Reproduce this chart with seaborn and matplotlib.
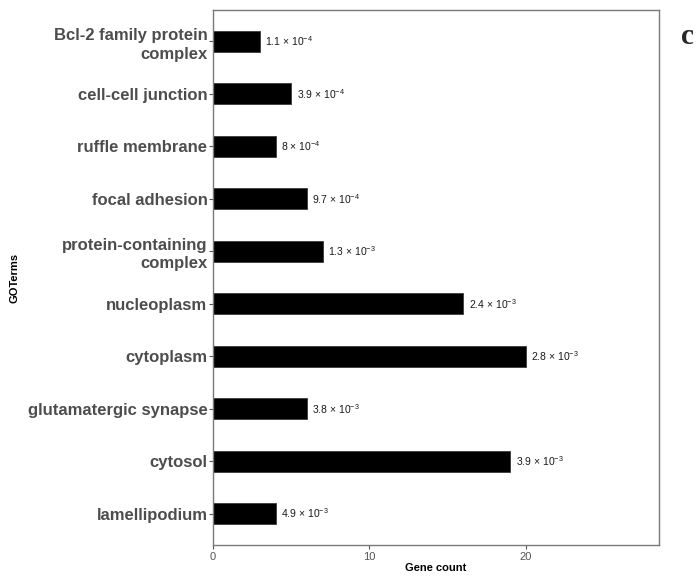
import matplotlib
matplotlib.use("Agg")
import matplotlib.pyplot as plt
import seaborn as sns
import pandas as pd

terms = [
    "Bcl-2 family protein\ncomplex",
    "cell-cell junction",
    "ruffle membrane",
    "focal adhesion",
    "protein-containing\ncomplex",
    "nucleoplasm",
    "cytoplasm",
    "glutamatergic synapse",
    "cytosol",
    "lamellipodium",
]
gene_counts = [3, 5, 4, 6, 7, 16, 20, 6, 19, 4]
p_mantissa = ["1.1", "3.9", "8", "9.7", "1.3", "2.4", "2.8", "3.8", "3.9", "4.9"]
p_exponent = [-4, -4, -4, -4, -3, -3, -3, -3, -3, -3]

df = pd.DataFrame({"GOTerms": terms, "Gene count": gene_counts})

sns.set_theme(style="white")
plt.rcParams["font.family"] = ["Liberation Sans", "DejaVu Sans"]
plt.rcParams["mathtext.fontset"] = "custom"
plt.rcParams["mathtext.rm"] = "Liberation Sans"
plt.rcParams["mathtext.it"] = "Liberation Sans:italic"
plt.rcParams["mathtext.bf"] = "Liberation Sans:bold"

fig = plt.figure(figsize=(6.97, 5.77), dpi=100)
ax = fig.add_axes([213 / 697, 32 / 577, (659 - 213) / 697, (545 - 10) / 577])

sns.barplot(data=df, x="Gene count", y="GOTerms", orient="h", color="black",
            width=0.4, edgecolor="#3a3a3a", linewidth=0.6, ax=ax)

for i, (cnt, m, e) in enumerate(zip(gene_counts, p_mantissa, p_exponent)):
    ax.text(cnt + 0.35, i, f"{m} × 10$^{{\\mathregular{{{e}}}}}$",
            va="center", ha="left", fontsize=7.5, color="#1a1a1a")

ax.set_xlim(0, 28.5)
ax.set_ylim(9.6, -0.6)
ax.set_xticks([0, 10, 20])
ax.tick_params(axis="x", labelsize=8, labelcolor="#555555", color="#555555",
               length=3, width=0.8, bottom=True, pad=2)
ax.tick_params(axis="y", labelsize=12, labelcolor="#4d4d4d", color="#555555",
               length=3, width=0.8, left=True, pad=1)
for lbl in ax.get_yticklabels():
    lbl.set_fontweight("bold")
    lbl.set_linespacing(1.3)

ax.set_xlabel("Gene count", fontsize=8, fontweight="bold", color="black", labelpad=1)
ax.set_ylabel("GOTerms", fontsize=8, fontweight="bold", color="black")
ax.yaxis.set_label_coords((19 - 213) / 446, 0.5)

for sp in ax.spines.values():
    sp.set_color("#7a7a7a")
    sp.set_linewidth(1.0)

fig.text(687 / 697, 1 - 36 / 577, "c", fontsize=21, fontweight="bold",
         family="Liberation Serif", ha="center", va="center")

fig.savefig("out.png", dpi=100)
